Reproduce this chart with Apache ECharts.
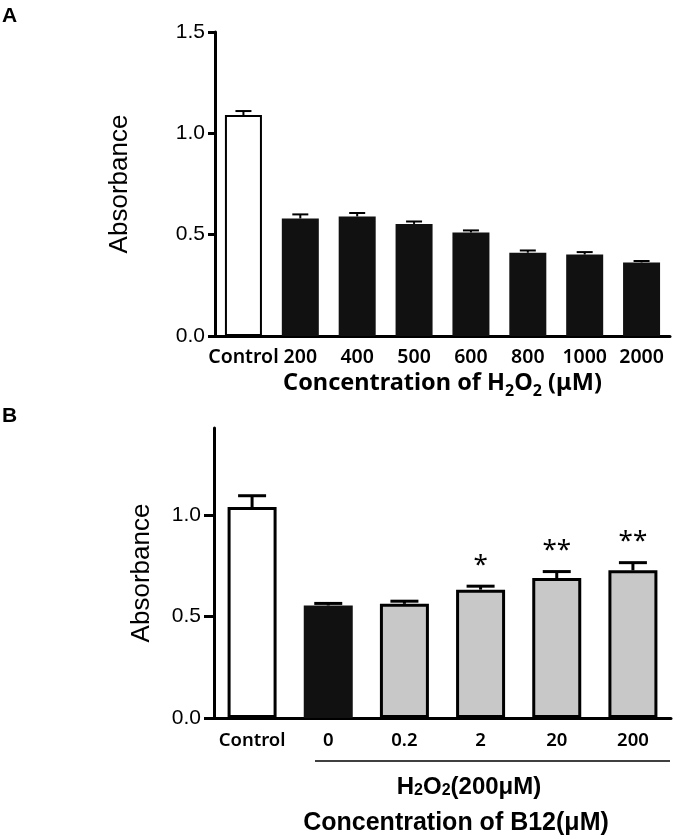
<!DOCTYPE html>
<html>
<head>
<meta charset="utf-8">
<script src="https://cdn.jsdelivr.net/npm/echarts@6/dist/echarts.min.js"></script>
<style>
html,body{margin:0;padding:0;background:#fff;}
#chart{width:675px;height:839px;}
</style>
</head>
<body>
<div id="chart"></div>
<script>
// Panel A data
var categoriesA = ['Control', '200', '400', '500', '600', '800', '1000', '2000'];
var meansA = [1.09, 0.58, 0.59, 0.553, 0.511, 0.411, 0.402, 0.363];
var errorsA = [0.02, 0.02, 0.017, 0.012, 0.01, 0.011, 0.012, 0.007];
var ticksA = [0, 0.5, 1.0, 1.5];

// Panel B data
var categoriesB = ['Control', '0', '0.2', '2', '20', '200'];
var meansB = [1.04, 0.555, 0.563, 0.633, 0.69, 0.728];
var errorsB = [0.056, 0.01, 0.013, 0.017, 0.032, 0.038];
var signifB = ['', '', '', '*', '**', '**'];
var ticksB = [0, 0.5, 1.0];

var numFont = '"Liberation Sans", Arial, sans-serif';
var catFont = '"Noto Sans", sans-serif';

var chart = echarts.init(document.getElementById('chart'), null, {renderer: 'canvas'});

function fillA(i) { return i === 0 ? '#ffffff' : '#111111'; }
function fillB(i) { return i === 0 ? '#ffffff' : (i === 1 ? '#111111' : '#c8c8c8'); }

var barDataA = meansA.map(function (v, i) {
  return {value: v, itemStyle: {color: fillA(i), borderColor: '#000', borderWidth: i === 0 ? 2 : 0}};
});
var barDataB = meansB.map(function (v, i) {
  return {value: v, itemStyle: {color: fillB(i), borderColor: '#000', borderWidth: i === 1 ? 0 : 3}};
});
var errDataA = meansA.map(function (v, i) { return [i, v, errorsA[i]]; });
var errDataB = meansB.map(function (v, i) { return [i, v, errorsB[i]]; });

function errRenderer(capW, lw, marks) {
  return function (params, api) {
    var i = api.value(0);
    var m = api.value(1);
    var e = api.value(2);
    var base = api.coord([i, m]);
    var top = api.coord([i, m + e]);
    var children = [
      {type: 'line', shape: {x1: top[0], y1: base[1], x2: top[0], y2: top[1]}, style: {stroke: '#000', lineWidth: lw}},
      {type: 'line', shape: {x1: top[0] - capW / 2, y1: top[1], x2: top[0] + capW / 2, y2: top[1]}, style: {stroke: '#000', lineWidth: lw}}
    ];
    if (marks && marks[params.dataIndex]) {
      children.push({type: 'text', style: {text: marks[params.dataIndex], x: top[0], y: top[1] - 21, align: 'center', verticalAlign: 'middle', font: '26px "Noto Sans", sans-serif', fill: '#000'}});
    }
    return {type: 'group', children: children};
  };
}

var subRich = {
  n: {fontFamily: catFont, fontWeight: 'bold', fontSize: 23.5, verticalAlign: 'bottom', padding: [0, 0, 4, 0], color: '#000'},
  s: {fontFamily: catFont, fontWeight: 'bold', fontSize: 16, verticalAlign: 'bottom', color: '#000'}
};

var option = {
  backgroundColor: '#fff',
  animation: false,
  grid: [
    {left: 215, right: 5, top: 32, bottom: 503, containLabel: false},
    {left: 214, right: 4, top: 428, bottom: 121, containLabel: false}
  ],
  xAxis: [
    {
      type: 'category', gridIndex: 0, data: categoriesA,
      axisLine: {lineStyle: {color: '#000', width: 3}},
      axisTick: {show: false},
      axisLabel: {interval: 0, margin: 11, color: '#000', fontFamily: catFont, fontWeight: 600, fontSize: 19.5},
      name: '{n|Concentration of H}{s|2}{n|O}{s|2}{n| (μM)}',
      nameLocation: 'middle', nameGap: 35,
      nameTextStyle: {rich: subRich}
    },
    {
      type: 'category', gridIndex: 1, data: categoriesB,
      axisLine: {lineStyle: {color: '#000', width: 3}},
      axisTick: {show: false},
      axisLabel: {interval: 0, margin: 13, color: '#000', fontFamily: catFont, fontWeight: 600, fontSize: 18.5}
    }
  ],
  yAxis: [
    {
      type: 'value', gridIndex: 0, min: 0, max: 1.5, interval: 0.5,
      axisLine: {show: true, lineStyle: {color: '#000', width: 3}},
      axisTick: {show: true, length: 7, lineStyle: {color: '#000', width: 3}, customValues: ticksA},
      axisLabel: {margin: 10, color: '#000', fontFamily: numFont, fontSize: 21, customValues: ticksA, formatter: function (v) { return v.toFixed(1); }},
      splitLine: {show: false},
      name: 'Absorbance', nameLocation: 'middle', nameGap: 82, nameRotate: 90,
      nameTextStyle: {color: '#000', fontFamily: numFont, fontSize: 26}
    },
    {
      type: 'value', gridIndex: 1, min: 0, max: 1.43, interval: 0.5,
      axisLine: {show: true, lineStyle: {color: '#000', width: 3}},
      axisTick: {show: true, length: 10, lineStyle: {color: '#000', width: 3}, customValues: ticksB},
      axisLabel: {margin: 13, color: '#000', fontFamily: numFont, fontSize: 21, customValues: ticksB, formatter: function (v) { return v.toFixed(1); }},
      splitLine: {show: false},
      name: 'Absorbance', nameLocation: 'middle', nameGap: 59, nameRotate: 90,
      nameTextStyle: {color: '#000', fontFamily: numFont, fontSize: 26}
    }
  ],
  series: [
    {type: 'bar', xAxisIndex: 0, yAxisIndex: 0, data: barDataA, barWidth: 37, z: 2},
    {type: 'custom', xAxisIndex: 0, yAxisIndex: 0, data: errDataA, renderItem: errRenderer(16, 2, null), z: 3,
      encode: {x: 0, y: [1, 2]}},
    {type: 'bar', xAxisIndex: 1, yAxisIndex: 1, data: barDataB, barWidth: 49, z: 2},
    {type: 'custom', xAxisIndex: 1, yAxisIndex: 1, data: errDataB, renderItem: errRenderer(28, 3, signifB), z: 3,
      encode: {x: 0, y: [1, 2]}}
  ],
  graphic: [
    {type: 'text', left: 2, top: 6, style: {text: 'A', font: 'bold 21px "Liberation Sans", Arial, sans-serif', fill: '#000'}},
    {type: 'text', left: 2, top: 406, style: {text: 'B', font: 'bold 21px "Liberation Sans", Arial, sans-serif', fill: '#000'}},
    {type: 'line', shape: {x1: 315, y1: 761, x2: 670, y2: 761}, style: {stroke: '#000', lineWidth: 1.5}},
    {type: 'text', x: 469, y: 787, style: {
      text: '{n|H}{s|2}{n|O}{s|2}{n|(200μM)}', align: 'center', verticalAlign: 'middle',
      rich: {
        n: {fontFamily: numFont, fontWeight: 'bold', fontSize: 24, lineHeight: 24, verticalAlign: 'bottom', fill: '#000'},
        s: {fontFamily: numFont, fontWeight: 'bold', fontSize: 16, lineHeight: 16, verticalAlign: 'bottom', fill: '#000'}
      }
    }},
    {type: 'text', x: 456, y: 823, style: {
      text: 'Concentration of B12(μM)', align: 'center', verticalAlign: 'middle',
      font: 'bold 25px "Liberation Sans", Arial, sans-serif', fill: '#000'
    }}
  ]
};
chart.setOption(option);
</script>
</body>
</html>
